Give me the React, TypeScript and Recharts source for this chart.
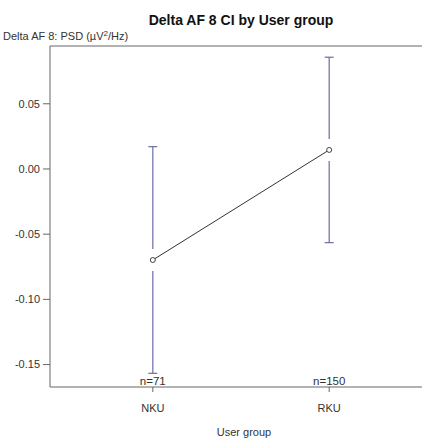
import React from "react";
import {
  ComposedChart,
  Line,
  XAxis,
  YAxis,
  ReferenceLine,
} from "recharts";

// Groups, their sample sizes and the mean with its confidence interval
const groups = ["NKU", "RKU"];
const counts = [71, 150];
const means = [-0.0698, 0.0146];
const lowerCI = [-0.1567, -0.0565];
const upperCI = [0.0171, 0.0857];

const yTicks = [-0.15, -0.1, -0.05, 0, 0.05];
const yDomain: [number, number] = [-0.1672, 0.0943];
const xDomain: [number, number] = [0.417, 2.583];

const data = groups.map((g, i) => ({
  x: i + 1,
  group: g,
  n: counts[i],
  mean: means[i],
}));

const FONT = "'Liberation Sans', Arial, sans-serif";
const TEXT = "#333";
const AXIS = "#666";
const BAR = "#6c6ca6";
const GAP = 11; // px left open around each mean
const CAP = 4.5; // half-width of the interval caps

// Category label below the axis, sample size just above it
const GroupTick = (props: any) => {
  const { x, y, payload } = props;
  const idx = Math.round(payload.value) - 1;
  return (
    <g>
      <text x={x} y={y + 18} textAnchor="middle" fontSize={11} fill={TEXT} fontFamily={FONT}>
        {groups[idx]}
      </text>
      <text x={x} y={y - 9} textAnchor="middle" fontSize={11.5} fill={TEXT} fontFamily={FONT}>
        {`n=${counts[idx]}`}
      </text>
    </g>
  );
};

// One arm of a confidence interval: capped at the (x1, y1) end and
// stopping short of the mean at the (x2, y2) end
const CIArm = (props: any) => {
  const { x1, y1, x2, y2 } = props;
  if ([x1, y1, x2, y2].some((v) => v == null || Number.isNaN(v))) return null;
  const dir = Math.sign(y2 - y1) || 1;
  const yEnd = y2 - dir * GAP;
  return (
    <g>
      <line x1={x1} y1={y1} x2={x2} y2={yEnd} stroke={BAR} strokeWidth={1.2} />
      <line x1={x1 - CAP} y1={y1} x2={x1 + CAP} y2={y1} stroke={BAR} strokeWidth={1.2} />
    </g>
  );
};

export default function App() {
  return (
    <div
      style={{
        position: "absolute",
        left: 0,
        top: 0,
        width: 422,
        height: 440,
        overflow: "hidden",
        background: "#fff",
        fontFamily: FONT,
      }}
    >
      <div
        style={{
          position: "absolute",
          left: 0,
          width: 482,
          top: 11,
          textAlign: "center",
          fontWeight: "bold",
          fontSize: 14,
          color: "#111",
          lineHeight: "18px",
        }}
      >
        Delta AF 8 CI by User group
      </div>
      <div
        style={{
          position: "absolute",
          left: 3,
          top: 29,
          fontSize: 11,
          color: TEXT,
          lineHeight: "14px",
          whiteSpace: "nowrap",
        }}
      >
        Delta AF 8: PSD (µV<sup style={{ fontSize: 8, verticalAlign: "4px", lineHeight: 0 }}>2</sup>/Hz)
      </div>
      <div
        style={{
          position: "absolute",
          left: 0,
          width: 488,
          top: 425,
          textAlign: "center",
          fontSize: 11,
          color: TEXT,
          lineHeight: "14px",
        }}
      >
        User group
      </div>
      <ComposedChart
        width={440}
        height={440}
        data={data}
        margin={{ top: 46, right: 8, bottom: 0, left: 0 }}
      >
        <XAxis
          type="number"
          dataKey="x"
          domain={xDomain}
          ticks={[1, 2]}
          allowDataOverflow
          height={53}
          tickSize={5}
          tickMargin={2}
          tickLine={{ stroke: AXIS }}
          axisLine={{ stroke: AXIS }}
          tick={<GroupTick />}
        />
        <YAxis
          type="number"
          domain={yDomain}
          ticks={yTicks}
          allowDataOverflow
          width={50}
          tickSize={7}
          tickMargin={3}
          tickLine={{ stroke: AXIS }}
          axisLine={{ stroke: AXIS }}
          tickFormatter={(v: number) => v.toFixed(2)}
          tick={{ fontSize: 11, fill: TEXT, fontFamily: FONT }}
        />
        {/* top edge of the plot frame */}
        <ReferenceLine y={yDomain[1]} ifOverflow="visible" stroke={AXIS} strokeWidth={1} />
        {groups.map((g, i) => (
          <ReferenceLine
            key={`lo-${g}`}
            segment={[
              { x: i + 1, y: lowerCI[i] },
              { x: i + 1, y: means[i] },
            ]}
            ifOverflow="visible"
            shape={<CIArm />}
          />
        ))}
        {groups.map((g, i) => (
          <ReferenceLine
            key={`hi-${g}`}
            segment={[
              { x: i + 1, y: upperCI[i] },
              { x: i + 1, y: means[i] },
            ]}
            ifOverflow="visible"
            shape={<CIArm />}
          />
        ))}
        <Line
          dataKey="mean"
          isAnimationActive={false}
          stroke="#333"
          strokeWidth={1}
          dot={{ r: 2.5, stroke: "#444", strokeWidth: 1, fill: "#fff" }}
          activeDot={false}
        />
      </ComposedChart>
    </div>
  );
}
